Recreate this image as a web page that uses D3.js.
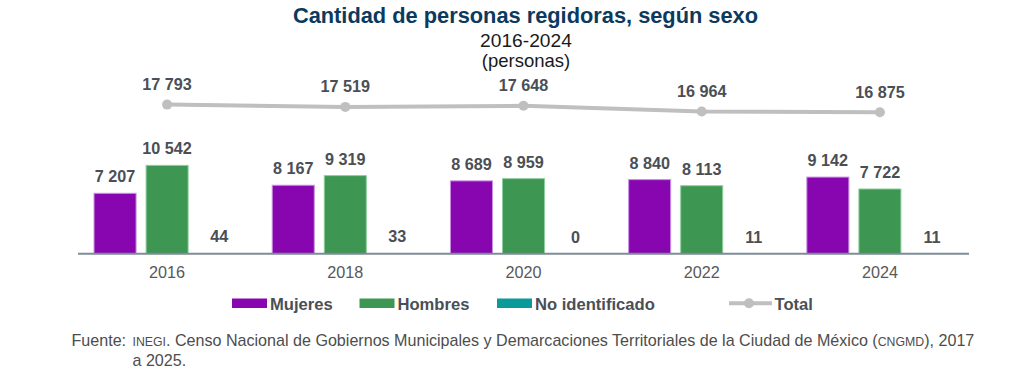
<!DOCTYPE html>
<html>
<head>
<meta charset="utf-8">
<script src="https://cdn.jsdelivr.net/npm/d3@7"></script>
<style>
  html, body { margin: 0; padding: 0; background: #fff; }
  svg { display: block; font-family: "Liberation Sans", Arial, sans-serif; }
</style>
</head>
<body>
<svg id="chart" width="1020" height="390"></svg>
<script>
const years = ["2016", "2018", "2020", "2022", "2024"];
const mujeres = [7207, 8167, 8689, 8840, 9142];
const hombres = [10542, 9319, 8959, 8113, 7722];
const noIdentificado = [44, 33, 0, 11, 11];
const total = [17793, 17519, 17648, 16964, 16875];
const seriesNames = ["Mujeres", "Hombres", "No identificado"];
const seriesColors = ["#8806b0", "#3d9651", "#0a9a9a"];
const seriesStroke = ["#c98fe0", "#8fcf9e", "#7fd0d0"];
const totalColor = "#bfbfbf";

const svg = d3.select("#chart");
const fmt = v => d3.format(",")(v).replace(/,/g, " ");

const x0 = d3.scaleBand().domain(years).range([78, 969]);
const x1 = d3.scaleBand().domain(seriesNames)
  .range([x0.bandwidth() * 0.09, x0.bandwidth() * 0.91])
  .paddingInner(0.1923);
const y = d3.scaleLinear().domain([0, 20000]).range([253.7, 86.1]);

// Title
svg.append("text").attr("x", 525.5).attr("y", 23).attr("text-anchor", "middle")
  .attr("font-size", 21.8).attr("font-weight", "bold").attr("fill", "#0b3a5e")
  .text("Cantidad de personas regidoras, según sexo");
svg.append("text").attr("x", 526).attr("y", 46.5).attr("text-anchor", "middle")
  .attr("font-size", 19.2).attr("fill", "#1a1a1a").text("2016-2024");
svg.append("text").attr("x", 526).attr("y", 67).attr("text-anchor", "middle")
  .attr("font-size", 18.5).attr("fill", "#1a1a1a").text("(personas)");

// Bars
const seriesData = [mujeres, hombres, noIdentificado];
const groups = svg.append("g").selectAll("g").data(years).join("g")
  .attr("transform", d => `translate(${x0(d)},0)`);

groups.each(function(yr, i) {
  const g = d3.select(this);
  seriesNames.forEach((s, j) => {
    const v = seriesData[j][i];
    g.append("rect")
      .attr("x", x1(s)).attr("width", x1.bandwidth())
      .attr("y", y(v)).attr("height", y(0) - y(v))
      .attr("fill", seriesColors[j])
      .attr("stroke", v > 100 ? seriesStroke[j] : "none").attr("stroke-width", 1);
    g.append("text")
      .attr("x", x1(s) + x1.bandwidth() / 2)
      .attr("y", y(v) - 11)
      .attr("text-anchor", "middle")
      .attr("font-size", 16.2).attr("font-weight", "bold").attr("fill", "#4a4f56")
      .text(fmt(v));
  });
});

// Axis baseline
svg.append("line").attr("x1", 78).attr("x2", 969)
  .attr("y1", y(0)).attr("y2", y(0))
  .attr("stroke", "#7f8c97").attr("stroke-width", 2);

// Year labels
svg.append("g").selectAll("text").data(years).join("text")
  .attr("x", d => x0(d) + x0.bandwidth() / 2)
  .attr("y", 277.5).attr("text-anchor", "middle")
  .attr("font-size", 16.2).attr("fill", "#595959")
  .text(d => d);

// Total line
const cx = d => x0(d) + x0.bandwidth() / 2;
const line = d3.line().x((d, i) => cx(years[i])).y(d => y(d));
svg.append("path").datum(total).attr("d", line)
  .attr("fill", "none").attr("stroke", totalColor).attr("stroke-width", 4);
svg.append("g").selectAll("circle").data(total).join("circle")
  .attr("cx", (d, i) => cx(years[i])).attr("cy", d => y(d)).attr("r", 5)
  .attr("fill", totalColor);
svg.append("g").selectAll("text").data(total).join("text")
  .attr("x", (d, i) => cx(years[i])).attr("y", d => y(d) - 14.5)
  .attr("text-anchor", "middle")
  .attr("font-size", 16.2).attr("font-weight", "bold").attr("fill", "#4a4f56")
  .text(d => fmt(d));

// Legend
const leg = svg.append("g");
const legItems = [
  { name: "Mujeres", x: 232, color: seriesColors[0] },
  { name: "Hombres", x: 359.5, color: seriesColors[1] },
  { name: "No identificado", x: 497, color: seriesColors[2] }
];
legItems.forEach(it => {
  leg.append("rect").attr("x", it.x).attr("y", 298.5).attr("width", 35).attr("height", 9.5)
    .attr("fill", it.color);
  leg.append("text").attr("x", it.x + 38).attr("y", 309.5)
    .attr("font-size", 16.6).attr("font-weight", "bold").attr("fill", "#4a4f56").text(it.name);
});
leg.append("line").attr("x1", 729).attr("x2", 772).attr("y1", 303.3).attr("y2", 303.3)
  .attr("stroke", totalColor).attr("stroke-width", 4);
leg.append("circle").attr("cx", 749).attr("cy", 303.3).attr("r", 5).attr("fill", totalColor);
leg.append("text").attr("x", 774.5).attr("y", 309.5)
  .attr("font-size", 16.6).attr("font-weight", "bold").attr("fill", "#4a4f56").text("Total");

// Source
const src = svg.append("text").attr("x", 71.5).attr("y", 346)
  .attr("font-size", 16.1).attr("fill", "#4d4d4d");
src.append("tspan").text("Fuente: ");
src.append("tspan").attr("x", 132.5).attr("font-size", 12.3).text("INEGI");
src.append("tspan").text(". Censo Nacional de Gobiernos Municipales y Demarcaciones Territoriales de la Ciudad de México (");
src.append("tspan").attr("font-size", 12.3).text("CNGMD");
src.append("tspan").text("), 2017");
svg.append("text").attr("x", 132.5).attr("y", 365.5)
  .attr("font-size", 16.1).attr("fill", "#4d4d4d").text("a 2025.");
</script>
</body>
</html>
